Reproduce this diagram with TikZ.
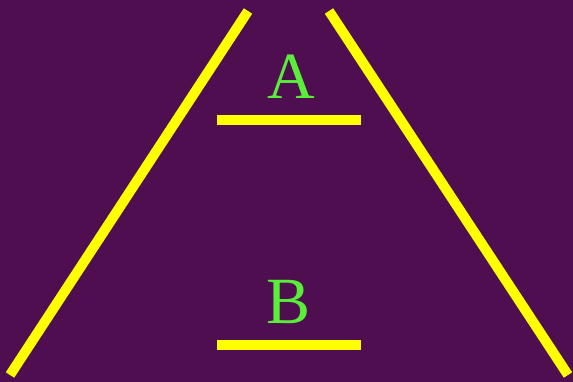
\documentclass[tikz,border=0pt]{standalone}
\usepackage{fontspec}
\setmainfont{Liberation Serif}
\usepackage{xcolor}
\usepackage{tikz}
\usetikzlibrary{positioning,calc}

\definecolor{bgpurple}{RGB}{79,14,79}
\definecolor{barYellow}{RGB}{255,255,0}
\definecolor{labelGreen}{RGB}{88,238,58}

\begin{document}
\begin{tikzpicture}[x=1pt,y=-1pt]
		\fill[bgpurple] (0,0) rectangle (573,382);
		\useasboundingbox (0,0) rectangle (573,382);

		\coordinate (lt) at (248,11);
		\coordinate (lb) at (10,375);
		\coordinate (rt) at (329,11);
		\coordinate (rb) at (568,375);

		\draw[barYellow, line width=10pt] (lt) -- (lb);
		\draw[barYellow, line width=10pt] (rt) -- (rb);

		\coordinate (a1) at (217,120.5);
		\coordinate (a2) at (361,120.5);
		\coordinate (b1) at (217,344.5);
		\coordinate (b2) at (361,344.5);

		\draw[barYellow, line width=10pt] (a1) -- (a2);
		\draw[barYellow, line width=10pt] (b1) -- (b2);

		\node[labelGreen, anchor=base, inner sep=0pt, font=\fontsize{66}{66}\selectfont] (A) at (291,99) {A};
		\node[labelGreen, anchor=base, inner sep=0pt, font=\fontsize{66}{66}\selectfont] (B) at (289,323) {B};
	\end{tikzpicture}
\end{document}
